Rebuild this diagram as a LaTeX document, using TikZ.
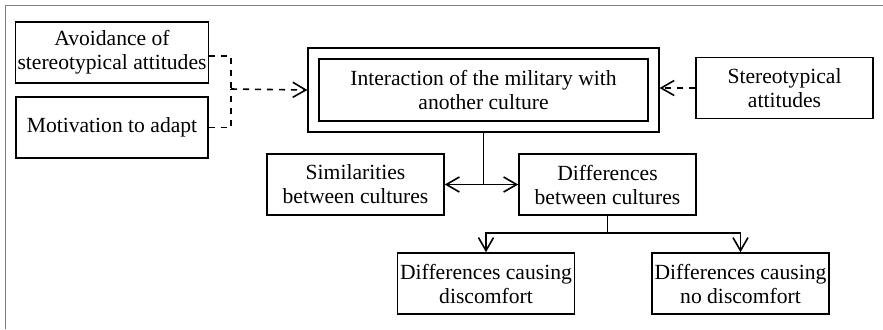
\documentclass[tikz,border=0pt]{standalone}
\usepackage{fontspec}
\setmainfont{Liberation Serif}
\usepackage{tikz}
\usetikzlibrary{positioning, arrows.meta, fit}
\tikzset{
>={Straight Barb[length=6.5pt, width=7.5pt]}, % open arrow heads
box/.style={draw, thick, align=center, minimum width=88.5pt, minimum height=30.5pt, inner sep=1pt}, % every box
link/.style={thick}, % connectors
}
\begin{document}
\begin{tikzpicture}[x=0.5pt, y=-0.5pt, font=\fontsize{10.8}{12}\selectfont]
        \useasboundingbox (0,0) rectangle (883,329);
        \draw[gray, line width=0.8pt] (5.5,329) -- (5.5,5.5) -- (883,5.5);
        \node[box, minimum width=96pt] (avoid) at (112,52.5) {Avoidance of\\stereotypical attitudes};
        \node[box, minimum width=96pt] (motiv) at (112,127.5) {Motivation to adapt};
        \node[box, minimum width=164.5pt, minimum height=31pt] (inter) at (483.5,90) {Interaction of the military with\\another culture};
        \node[box, fit=(inter), inner sep=5pt] (interbox) {};
        \node[box] (stereo) at (784.5,88) {Stereotypical\\attitudes};
        \node[box] (simil) at (355.5,184.5) {Similarities\\between cultures};
        \node[box] (diff) at (607.5,184.5) {Differences\\between cultures};
        \node[box] (disc) at (486,283.5) {Differences causing\\discomfort};
        \node[box] (nodisc) at (740.5,283.5) {Differences causing\\no discomfort};
        \coordinate (join) at (231,89);
        \coordinate (split) at (interbox.south |- simil.east);
        \coordinate[below=8.5pt of diff.south] (branch);
        \draw[link, dashed] ([yshift=-1.75pt]avoid.east) -| (join)
        (motiv.east) -| (join);
        \draw[link, dashed, ->] (join) -- (interbox.west);
        \draw[link, dashed, ->] (stereo.west) -- (stereo.west -| interbox.east);
        \draw[link] (interbox.south) -- (split);
        \draw[link, ->] (split) -- (simil.east);
        \draw[link, ->] (split) -- (diff.west);
        \draw[link] (diff.south) -- (branch);
        \draw[link, ->] (branch) -| (disc.north);
        \draw[link, ->] (branch) -| (nodisc.north);
        \end{tikzpicture}
\end{document}
